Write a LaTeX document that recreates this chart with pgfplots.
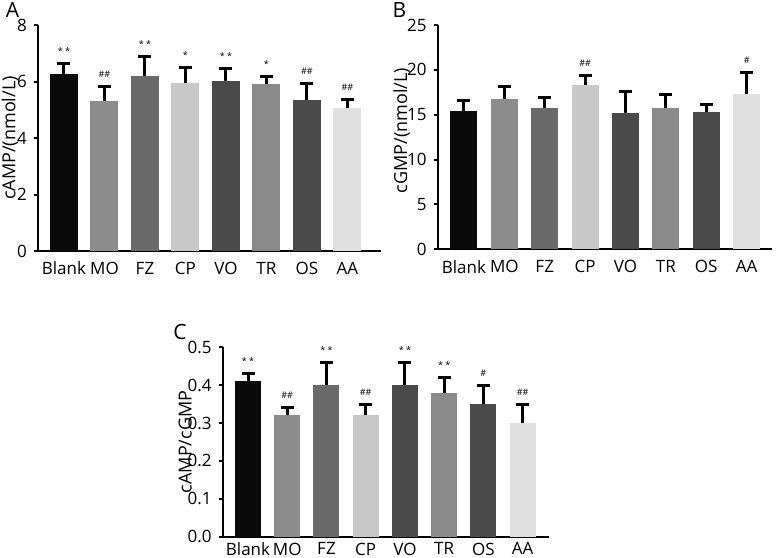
\documentclass[border=0pt]{standalone}
\usepackage{pgfplots}
\pgfplotsset{compat=1.18}
\usepackage{fontspec}
\setmainfont{Open Sans}

\definecolor{gBlank}{HTML}{0A0A0A}
\definecolor{gMO}{HTML}{8C8C8C}
\definecolor{gFZ}{HTML}{6A6A6A}
\definecolor{gCP}{HTML}{C8C8C8}
\definecolor{gVO}{HTML}{4A4A4A}
\definecolor{gTR}{HTML}{8A8A8A}
\definecolor{gOS}{HTML}{4A4A4A}
\definecolor{gAA}{HTML}{E0E0E0}

\pgfplotsset{
  panel/.style={
    scale only axis, anchor=south west,
    axis x line*=bottom, axis y line*=left,
    axis line style={line width=1pt, -},
    xtick={0,...,7}, xticklabels={Blank,MO,FZ,CP,VO,TR,OS,AA},
    xtick style={draw=none},
    ytick style={line width=1pt, black},
    tick align=outside, major tick length=2pt,
    ymin=0,
    tick label style={font=\fontsize{8.5}{9}\selectfont},
    /pgf/number format/assume math mode=true,
    clip=false,
  },
  br/.style={ybar, bar shift=0pt, fill=#1, draw=none,
    error bars/.cd, y dir=plus, y explicit,
    error bar style={line width=1.5pt, black},
    error mark options={line width=1.5pt, mark size=3.25pt, rotate=90, black}},
  note/.style={draw=none, mark=none, nodes near coords, point meta=explicit symbolic,
    every node near coord/.append style={anchor=base, yshift=4.5pt,
      font=\fontsize{4.5}{5}\selectfont, text=black}},
}
\tikzset{ylab/.style={rotate=90, anchor=center, font=\fontsize{9}{10}\selectfont}}

\begin{document}
\begin{tikzpicture}
\useasboundingbox (0,0) rectangle (388pt,278.5pt);

% A
\begin{axis}[panel, at={(19pt,153pt)}, width=171.5pt, height=113pt,
  xmin=-0.642, xmax=7.83, ymax=8, ytick={0,2,4,6,8}, bar width=14pt]
\addplot[br=gBlank] coordinates {(0,6.28) +- (0,0.37)};
\addplot[br=gMO] coordinates {(1,5.32) +- (0,0.52)};
\addplot[br=gFZ] coordinates {(2,6.18) +- (0,0.70)};
\addplot[br=gCP] coordinates {(3,5.96) +- (0,0.55)};
\addplot[br=gVO] coordinates {(4,6.03) +- (0,0.43)};
\addplot[br=gTR] coordinates {(5,5.91) +- (0,0.28)};
\addplot[br=gOS] coordinates {(6,5.35) +- (0,0.58)};
\addplot[br=gAA] coordinates {(7,5.05) +- (0,0.30)};
\addplot[note] coordinates {(0,6.65) [* *] (1,5.84) [\#\#] (2,6.88) [* *] (3,6.51) [*]
  (4,6.46) [* *] (5,6.19) [*] (6,5.93) [\#\#] (7,5.35) [\#\#]};
\node[ylab] at (rel axis cs:-0.082,0.5) {cAMP/(nmol/L)};
\end{axis}

% B
\begin{axis}[panel, at={(218.85pt,153.85pt)}, width=167pt, height=112.15pt,
  xmin=-0.65, xmax=7.62, ymax=25, ytick={0,5,10,15,20,25}, bar width=13.5pt]
\addplot[br=gBlank] coordinates {(0,15.42) +- (0,1.17)};
\addplot[br=gMO] coordinates {(1,16.79) +- (0,1.32)};
\addplot[br=gFZ] coordinates {(2,15.80) +- (0,1.15)};
\addplot[br=gCP] coordinates {(3,18.32) +- (0,1.02)};
\addplot[br=gVO] coordinates {(4,15.20) +- (0,2.43)};
\addplot[br=gTR] coordinates {(5,15.72) +- (0,1.50)};
\addplot[br=gOS] coordinates {(6,15.27) +- (0,0.87)};
\addplot[br=gAA] coordinates {(7,17.28) +- (0,2.39)};
\addplot[note] coordinates {(3,19.34) [\#\#] (7,19.67) [\#]};
\node[ylab] at (rel axis cs:-0.108,0.53) {cGMP/(nmol/L)};
\end{axis}

% C
\begin{axis}[panel, at={(111.35pt,10.15pt)}, width=163.3pt, height=94.7pt,
  xmin=-0.645, xmax=7.68, ymax=0.5, ytick={0,0.1,0.2,0.3,0.4,0.5}, bar width=13pt,
  yticklabel style={/pgf/number format/.cd, fixed, fixed zerofill, precision=1},
  xticklabel style={yshift=2.5pt}]
\addplot[br=gBlank] coordinates {(0,0.41) +- (0,0.02)};
\addplot[br=gMO] coordinates {(1,0.32) +- (0,0.02)};
\addplot[br=gFZ] coordinates {(2,0.40) +- (0,0.06)};
\addplot[br=gCP] coordinates {(3,0.32) +- (0,0.03)};
\addplot[br=gVO] coordinates {(4,0.40) +- (0,0.06)};
\addplot[br=gTR] coordinates {(5,0.38) +- (0,0.04)};
\addplot[br=gOS] coordinates {(6,0.35) +- (0,0.05)};
\addplot[br=gAA] coordinates {(7,0.30) +- (0,0.05)};
\addplot[note] coordinates {(0,0.43) [* *] (1,0.34) [\#\#] (2,0.46) [* *] (3,0.35) [\#\#]
  (4,0.46) [* *] (5,0.42) [* *] (6,0.40) [\#] (7,0.35) [\#\#]};
\node[ylab] at (rel axis cs:-0.115,0.5) {cAMP/cGMP};
\end{axis}

\node[font=\fontsize{10.5}{12}\selectfont] at (6.25pt,273.5pt) {A};
\node[font=\fontsize{10.5}{12}\selectfont] at (199.75pt,273.5pt) {B};
\node[font=\fontsize{10.5}{12}\selectfont] at (90pt,112.25pt) {C};
\end{tikzpicture}
\end{document}
